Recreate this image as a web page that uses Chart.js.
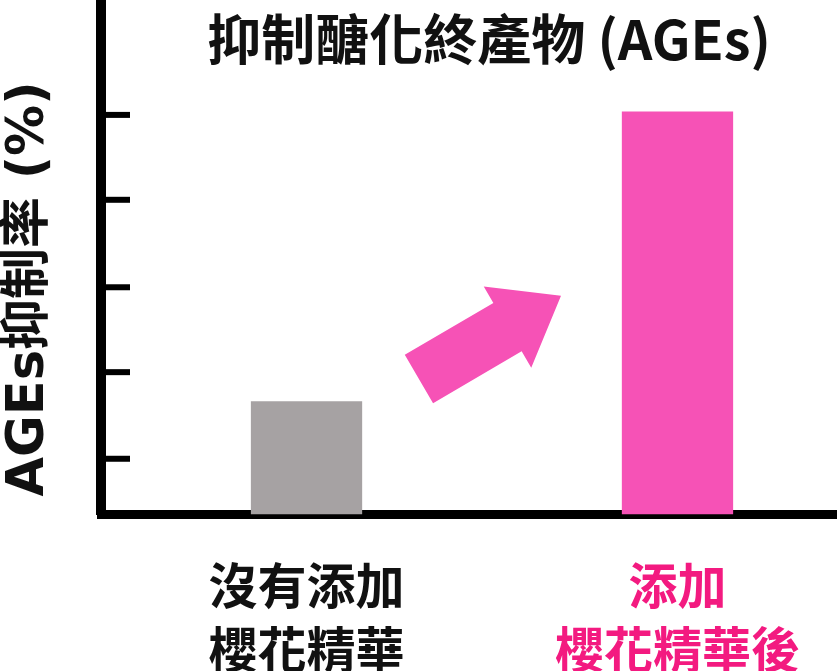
<!DOCTYPE html>
<html lang="zh-Hant">
<head>
  <meta charset="UTF-8">
  <title>抑制醣化終產物 (AGEs)</title>
  <script src="https://cdn.jsdelivr.net/npm/chart.js@4.4.0/dist/chart.umd.min.js"></script>
  <style>
    html, body { margin: 0; padding: 0; background: #fff; }
    #wrap { width: 837px; height: 671px; position: relative; }
  </style>
</head>
<body>
  <div id="wrap">
    <canvas id="agesChart"></canvas>
  </div>

  <script>
    // data
    const categories = [['沒有添加', '櫻花精華'], ['添加', '櫻花精華後']];
    const inhibition = [13.2, 47.0];
    const tickValues = [6.5, 16.6, 26.5, 36.7, 46.6];
    const barColors = ['#a6a2a3', '#f652b6'];
    const labelColors = ['#111111', '#f31a80'];
    // arrow from the first bar toward the second, in axis units
    const arrowFrom = [0.303, 15.8];
    const arrowTo = [0.686, 25.5];

    const chartTitle = '抑制醣化終產物 (AGEs)';
    const yTitle = 'AGEs抑制率 (%)';

    // ticks pointing into the plot + arrow + titles
    const decorPlugin = {
      id: 'decor',
      afterDatasetsDraw(chart) {
        const ctx = chart.ctx;
        const x = chart.scales.x, y = chart.scales.y;
        const area = chart.chartArea;

        ctx.save();
        ctx.strokeStyle = '#000';
        ctx.lineWidth = 6;
        tickValues.forEach(function(v) {
          const py = y.getPixelForValue(v);
          ctx.beginPath();
          ctx.moveTo(area.left, py);
          ctx.lineTo(area.left + 29, py);
          ctx.stroke();
        });

        // arrow
        const tx = x.getPixelForValue(arrowFrom[0]), ty = y.getPixelForValue(arrowFrom[1]);
        const px = x.getPixelForValue(arrowTo[0]), py = y.getPixelForValue(arrowTo[1]);
        const len = Math.hypot(px - tx, py - ty);
        const ux = (px - tx) / len, uy = (py - ty) / len;
        const nx = -uy, ny = ux;
        const shaft = 28, head = 47, headLen = 62;
        const bx = px - ux * headLen, by = py - uy * headLen;
        ctx.fillStyle = barColors[1];
        ctx.beginPath();
        ctx.moveTo(tx + nx * shaft, ty + ny * shaft);
        ctx.lineTo(bx + nx * shaft, by + ny * shaft);
        ctx.lineTo(bx + nx * head, by + ny * head);
        ctx.lineTo(px, py);
        ctx.lineTo(bx - nx * head, by - ny * head);
        ctx.lineTo(bx - nx * shaft, by - ny * shaft);
        ctx.lineTo(tx - nx * shaft, ty - ny * shaft);
        ctx.closePath();
        ctx.fill();

        // chart title
        ctx.fillStyle = '#111';
        ctx.textAlign = 'center';
        ctx.textBaseline = 'middle';
        ctx.font = 'bold 54px "Noto Sans CJK TC", "Noto Sans CJK SC", sans-serif';
        ctx.fillText(chartTitle, (area.left + area.right) / 2 + 20, 39);

        // y axis title, rotated
        ctx.translate(30, 289);
        ctx.rotate(-Math.PI / 2);
        ctx.font = 'bold 51px "DejaVu Sans", "Noto Sans CJK TC", sans-serif';
        ctx.fillText(yTitle, 0, 0);
        ctx.restore();
      }
    };

    const ctx = document.getElementById('agesChart');

    new Chart(ctx, {
      type: 'bar',
      data: {
        datasets: [{
          data: inhibition.map(function(v, i) { return { x: i, y: v }; }),
          backgroundColor: barColors,
          borderWidth: 0,
          barPercentage: 0.3,
          categoryPercentage: 1
        }]
      },
      options: {
        responsive: true,
        maintainAspectRatio: false,
        animation: false,
        layout: { padding: 0 },
        plugins: {
          legend: { display: false },
          title: { display: false },
          tooltip: { enabled: false }
        },
        scales: {
          x: {
            type: 'linear',
            offset: false,
            min: -0.554,
            max: 1.43,
            grid: { display: false },
            border: { display: true, width: 9, color: '#000' },
            afterBuildTicks: function(scale) {
              scale.ticks = categories.map(function(c, i) { return { value: i }; });
            },
            afterFit: function(scale) { scale.height = 156.5; },
            ticks: {
              autoSkip: false,
              maxRotation: 0,
              padding: 31,
              color: function(c) { return labelColors[c.index]; },
              font: { family: '"Noto Sans CJK TC", "Noto Sans CJK SC", sans-serif', size: 49, weight: 'bold', lineHeight: 64 / 49 },
              callback: function(value) { return categories[value]; }
            }
          },
          y: {
            min: 0,
            max: 60,
            grid: { display: false },
            border: { display: true, width: 10, color: '#000' },
            ticks: { display: false },
            afterFit: function(scale) { scale.width = 101; }
          }
        }
      },
      plugins: [decorPlugin]
    });
  </script>
</body>
</html>
